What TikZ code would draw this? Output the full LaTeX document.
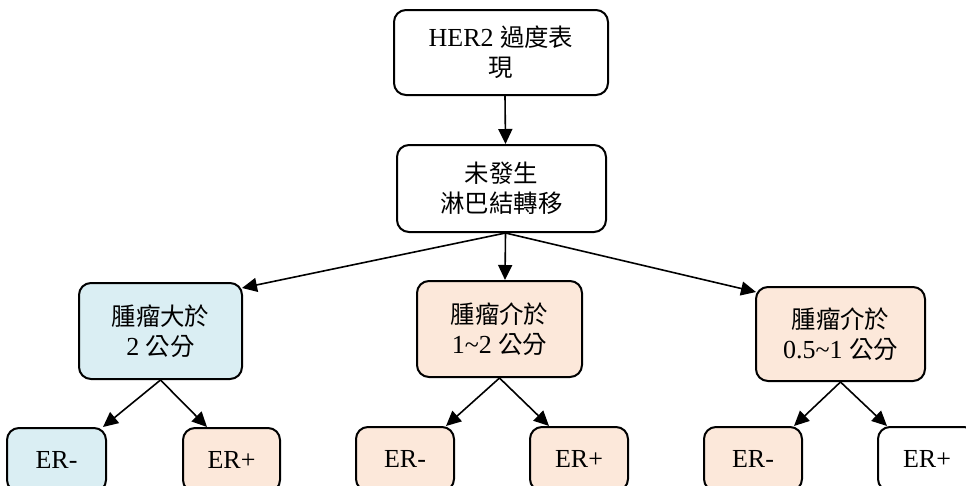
\documentclass[tikz,border=0pt]{standalone}
\usepackage{fontspec}
\setmainfont{Liberation Serif}
\newfontfamily\cjk[Scale=0.94]{Noto Sans CJK TC}
\newcommand\cj[1]{{\cjk #1}}
\usetikzlibrary{arrows.meta,calc}
\definecolor{boxblue}{HTML}{DAEEF3}
\definecolor{boxpeach}{HTML}{FCE8DA}
\tikzset{
  box/.style={draw=black, line width=2pt, rounded corners=12pt, align=center,
    inner sep=0pt, font=\fontsize{26}{30}\selectfont},
  link/.style={line width=1.6pt, -{Triangle[length=15pt,width=14pt]}},
}
\begin{document}
\begin{tikzpicture}[x=1pt,y=-1pt]
\useasboundingbox (0,0) rectangle (966,485);
\clip (0,0) rectangle (966,485);
\node[box, fill=white, minimum width=214pt, minimum height=85pt] (top) at (501,52.5) {HER2 \cj{過度表}\\\cj{現}};
\node[box, fill=white, minimum width=209pt, minimum height=87pt] (sec) at (501.5,188.5) {\cj{未發生}\\\cj{淋巴結轉移}};
\node[box, fill=boxblue, minimum width=163pt, minimum height=96pt] (l1) at (160.5,331) {\cj{腫瘤大於}\\2 \cj{公分}};
\node[box, fill=boxpeach, minimum width=165pt, minimum height=96pt] (m1) at (499.5,329) {\cj{腫瘤介於}\\1\textasciitilde2 \cj{公分}};
\node[box, fill=boxpeach, minimum width=169pt, minimum height=94pt] (r1) at (840.5,334) {\cj{腫瘤介於}\\0.5\textasciitilde1 \cj{公分}};
\node[box, fill=boxblue, minimum width=99pt, minimum height=64pt] (la) at (56.5,460) {ER-};
\node[box, fill=boxpeach, minimum width=97pt, minimum height=64pt] (lb) at (231.5,460) {ER+};
\node[box, fill=boxpeach, minimum width=98pt, minimum height=64pt] (ma) at (405,459) {ER-};
\node[box, fill=boxpeach, minimum width=98pt, minimum height=64pt] (mb) at (579,459) {ER+};
\node[box, fill=boxpeach, minimum width=98pt, minimum height=64pt] (ra) at (753,459) {ER-};
\node[box, fill=white, minimum width=98pt, minimum height=64pt] (rb) at (927,459) {ER+};
\draw[link] ([xshift=4pt]top.south) -- ([xshift=4pt]sec.north);
\draw[link] ([xshift=4pt]sec.south) -- ([xshift=5.5pt]m1.north);
\draw[link] ([xshift=4pt]sec.south) -- ($(l1.north east)+(-1,6)$);
\draw[link] ([xshift=4pt]sec.south) -- ($(r1.north west)+(1,6)$);
\draw[link] (l1.south) -- ($(la.north east)+(-4,0)$);
\draw[link] (l1.south) -- ($(lb.north west)+(25,0)$);
\draw[link] (m1.south) -- ($(ma.north east)+(-9,0)$);
\draw[link] (m1.south) -- ($(mb.north west)+(20,0)$);
\draw[link] (r1.south) -- ($(ra.north east)+(-9,0)$);
\draw[link] (r1.south) -- ($(rb.north west)+(10,0)$);
\end{tikzpicture}
\end{document}
